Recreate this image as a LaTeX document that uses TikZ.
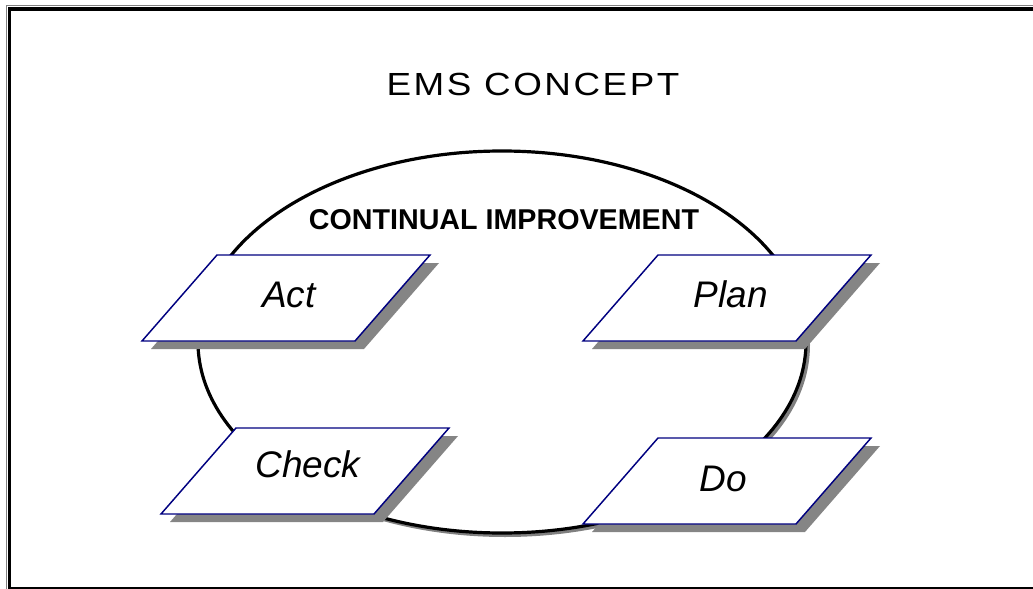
\documentclass[tikz,border=0pt]{standalone}
\usepackage{fontspec}
\setmainfont{Liberation Sans}
\newfontfamily\titlefont[FakeStretch=1.15,LetterSpace=8]{Liberation Sans}
\begin{document}
\begin{tikzpicture}[x=0.75pt,y=-0.75pt,
  shadowcol/.style={fill=black!48},
  boxline/.style={draw={rgb,255:red,0;green,0;blue,128},line width=1.1pt,fill=white},
  boxtext/.style={anchor=base,font=\fontsize{27.75}{30}\selectfont\itshape,inner sep=0pt},
]
\useasboundingbox (0,0) rectangle (1033,589);
\clip (0,0) rectangle (1033,589);
% frame
\draw[black!50,line width=1.1pt] (6.5,5.5) rectangle (1060,620);
\draw[black,line width=2.3pt] (9.5,9) rectangle (1060,588.5);
% title
\node[anchor=base,inner sep=0pt,font=\titlefont\fontsize{24}{28}\selectfont] (title) at (533,95) {EMS CONCEPT};
% ellipse with shadow
\fill[black!50] (505,345) ellipse [x radius=305, y radius=192];
\draw[black,line width=2.4pt,fill=white] (502,342) ellipse [x radius=304, y radius=191];
\node[anchor=base,inner sep=0pt,font=\bfseries\fontsize{21.5}{24}\selectfont] (ci) at (504,229) {CONTINUAL IMPROVEMENT};
% parallelograms: bottom-left corners
\foreach \nm/\bx/\by in {act/142/341, plan/583/341, check/161/514, do/583/524}{
  \fill[shadowcol] (\bx+9,\by+8) -- (\bx+84,\by-78) -- (\bx+297,\by-78) -- (\bx+222,\by+8) -- cycle;
  \draw[boxline] (\bx,\by) -- (\bx+75,\by-86) -- (\bx+288,\by-86) -- (\bx+213,\by) -- cycle;
}
\node[boxtext] (act) at (289,307) {Act};
\node[boxtext] (plan) at (731,307) {Plan};
\node[boxtext] (check) at (308,477) {Check};
\node[boxtext] (do) at (723,491) {Do};
\end{tikzpicture}
\end{document}
